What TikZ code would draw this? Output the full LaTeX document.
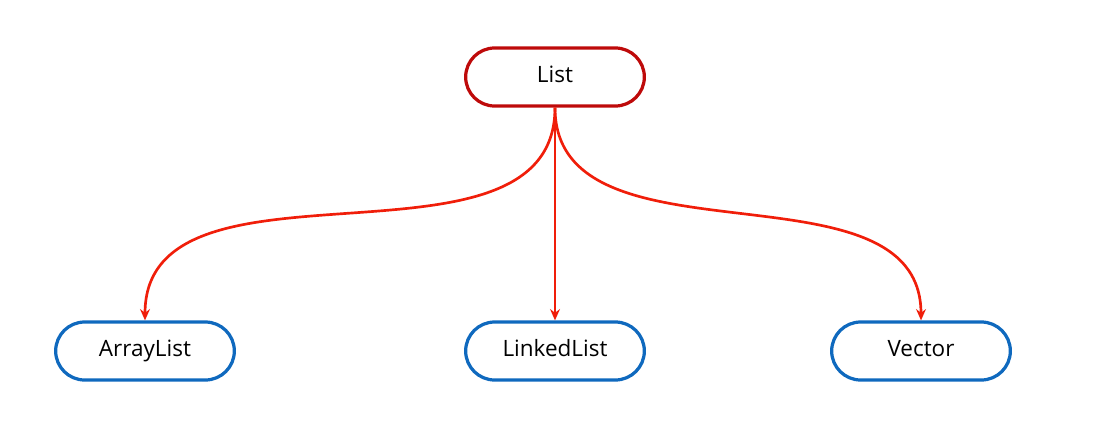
\documentclass[tikz,border=0pt]{standalone}
\usepackage{fontspec}
\setmainfont{Open Sans}
\usetikzlibrary{arrows.meta, positioning, shapes}
\definecolor{listred}{RGB}{190,10,10}
\definecolor{arrowred}{RGB}{240,30,10}
\definecolor{implblue}{RGB}{15,105,190}
\tikzset{
    x=0.025cm, y=-0.025cm,
    base/.style = {rounded rectangle, minimum width=4.7cm, minimum height=1.45cm, line width=2.3pt, fill=white, text height=1.5ex, text depth=.1ex, font=\fontsize{16}{19}\selectfont},
    root/.style = {base, draw=listred},
    impl/.style = {base, draw=implblue},
    link/.style = {arrowred, line width=1.9pt, -{Stealth[length=8pt,width=7pt]}}
}
\begin{document}
\begin{tikzpicture}
    \useasboundingbox (0,0) rectangle (1097,434);
    \node [root] (list) at (555,77) {List};
    \node [impl] (linked) at (555,351) {LinkedList};
    \node [impl] (array) at (145,351) {ArrayList};
    \node [impl] (vector) at (921,351) {Vector};
    \draw [link] (list.south) to [out=-90, in=90] (array.north);
    \draw [link] (list.south) -- (linked.north);
    \draw [link] (list.south) to [out=-90, in=90] (vector.north);
\end{tikzpicture}
\end{document}
